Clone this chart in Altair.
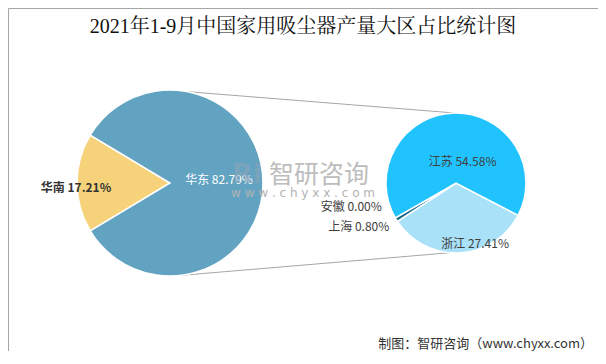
import math
import altair as alt
import pandas as pd

# ---- data ----
regions = ["华南", "华东"]
region_share = [17.21, 82.79]
provinces = ["浙江", "上海", "安徽", "江苏"]
province_share = [27.41, 0.80, 0.00, 54.58]

title_text = "2021年1-9月中国家用吸尘器产量大区占比统计图"
source_text = "制图：智研咨询（www.chyxx.com）"
watermark_cn = "智研咨询"
watermark_url = "w w w . c h y x x . c o m"

# ---- styles / layout ----
colors = {
    "华东": "#62a3c2", "华南": "#f6d37b",
    "江苏": "#21c3ff", "浙江": "#a9e1f9", "上海": "#1d6b8c", "安徽": "#2b4c7e",
}
W, H = 590, 343
LC, LR = (162, 175), 93
RC, RR = (448, 175), 70
L_START = math.radians(239)
R_START = math.radians(117.5)
CJK = "Noto Sans CJK SC"


def make_df(names, vals):
    df = pd.DataFrame({"name": names, "share": vals, "idx": list(range(len(names)))})
    df["label"] = [f"{n} {v:.2f}%" for n, v in zip(names, vals)]
    return df


color_scale = alt.Scale(domain=list(colors), range=list(colors.values()))


def pie(df, center, radius, start, layout):
    base = alt.Chart(df).encode(
        theta=alt.Theta("share:Q", stack=True,
                        scale=alt.Scale(range=[start, start + 2 * math.pi])),
        order=alt.Order("idx:Q"),
        x=alt.value(center[0]),
        y=alt.value(center[1]),
    )
    arc = base.mark_arc(outerRadius=radius, stroke="white", strokeWidth=1.5).encode(
        color=alt.Color("name:N", scale=color_scale, legend=None)
    )
    texts = []
    for name, (r, dx, dy, col, weight) in layout.items():
        texts.append(
            base.mark_text(radius=r, dx=dx, dy=dy, fontSize=12, color=col,
                           fontWeight=weight, font=CJK, align="center",
                           baseline="middle").encode(
                text=alt.condition(f"datum.name == '{name}'", "label:N", alt.value(""))
            )
        )
    return alt.layer(arc, *texts)


left = pie(make_df(regions, region_share), LC, LR, L_START, {
    "华南": (94, 0, 5, "#333333", "bold"),
    "华东": (49, 0, -3, "white", "normal"),
})
right = pie(make_df(provinces, province_share), RC, RR, R_START, {
    "浙江": (61, 16, 0, "#404040", "normal"),
    "上海": (100, -12, -8, "#404040", "normal"),
    "安徽": (100, -18, -26, "#404040", "normal"),
    "江苏": (21, 7, 0, "#404040", "normal"),
})

one = alt.Chart(pd.DataFrame({"k": [0]}))


def on_circle(c, r, deg):
    a = math.radians(deg)
    return c[0] + r * math.sin(a), c[1] - r * math.cos(a)


connectors = []
for la, ra in [(11, -1), (174, 185)]:
    p1 = on_circle(LC, LR, la)
    p2 = on_circle(RC, RR, ra)
    connectors.append(
        one.mark_rule(color="#a6a6a6", strokeWidth=1).encode(
            x=alt.value(p1[0]), y=alt.value(p1[1]),
            x2=alt.value(p2[0]), y2=alt.value(p2[1]),
        )
    )


def label(txt, x, y, **kw):
    return one.mark_text(**kw).encode(x=alt.value(x), y=alt.value(y), text=alt.value(txt))


title = label(title_text, W / 2, 19, fontSize=20, font="Liberation Serif, Noto Serif CJK SC, serif",
              color="#111111", align="center", baseline="middle")
wm_logo = label("Ri", 239, 167, fontSize=27, fontWeight="bold", font="DejaVu Sans",
                color="#8ea3b8", opacity=0.55, align="center", baseline="middle")
wm_cn = label(watermark_cn, 311, 167, fontSize=25, font=CJK, color="#bdbdbd",
              align="center", baseline="middle")
wm_url = label(watermark_url, 295, 185, fontSize=12, font="DejaVu Sans", color="#b3b3b3",
               align="center", baseline="middle")
source = label(source_text, 585, 336, fontSize=13, font=CJK, color="#333333",
               align="right", baseline="middle")

chart = alt.layer(
    *connectors, left, right, wm_logo, wm_cn, wm_url, title, source
).resolve_scale(theta="independent").properties(
    width=W, height=H, padding=0, autosize=alt.AutoSizeParams(type="none")
).configure_view(stroke="#a6a6a6", strokeWidth=1)

chart.save("out.html", embed_options={"renderer": "svg", "actions": False})
